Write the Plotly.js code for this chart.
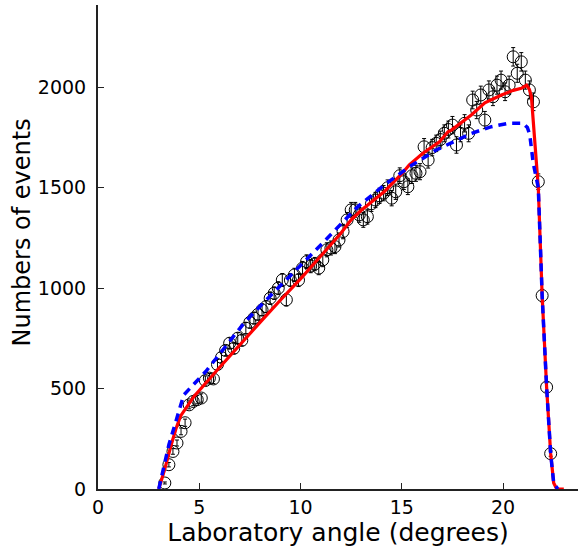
<!DOCTYPE html>
<html>
<head>
<meta charset="utf-8">
<script src="https://cdn.plot.ly/plotly-3.0.1.min.js"></script>
<style>html,body{margin:0;padding:0;background:#fff;}#plot{width:580px;height:548px;}</style>
</head>
<body>
<div id="plot"></div>
<script>
// Measured data points (laboratory angle, counts)
const dataAngle = [3.3,3.5,3.7,3.9,4.1,4.3,4.5,4.7,4.9,5.1,5.3,5.5,5.7,5.9,6.1,6.3,6.5,6.7,6.9,7.1,7.3,7.5,7.7,7.9,8.1,8.3,8.5,8.7,8.9,9.1,9.3,9.5,9.7,9.9,10.1,10.3,10.5,10.7,10.9,11.1,11.3,11.5,11.7,11.9,12.1,12.3,12.5,12.7,12.9,13.1,13.3,13.5,13.7,13.9,14.1,14.3,14.5,14.7,14.9,15.1,15.3,15.5,15.7,15.9,16.1,16.3,16.5,16.7,16.9,17.1,17.3,17.5,17.7,17.9,18.1,18.3,18.5,18.7,18.9,19.1,19.3,19.5,19.7,19.9,20.1,20.3,20.5,20.7,20.9,21.1,21.3,21.5,21.74,21.93,22.15,22.35];
const dataCounts = [30,121,187,229,287,330,419,436,445,453,540,552,548,620,655,690,726,700,751,740,801,830,851,870,892,908,950,975,1000,1041,942,1040,1066,1040,1100,1132,1110,1120,1100,1141,1191,1200,1207,1240,1282,1340,1390,1390,1365,1340,1356,1420,1439,1460,1473,1500,1448,1480,1560,1530,1505,1560,1572,1580,1704,1638,1700,1721,1740,1771,1790,1812,1713,1771,1821,1771,1937,1887,1962,1837,1987,1953,2011,2036,1978,2011,2152,2070,2127,2036,1987,1928,1530,963,507,176];
const dataErr = [5,11,14,15,17,18,20,21,21,21,23,23,23,25,26,26,27,26,27,27,28,29,29,29,30,30,31,31,32,32,31,32,33,32,33,34,33,33,33,34,35,35,35,35,36,37,37,37,37,37,37,38,38,38,38,39,38,38,39,39,39,39,40,40,41,40,41,41,42,42,42,43,41,42,43,42,44,43,44,43,45,44,45,45,44,45,46,45,46,45,45,44,39,31,23,13];

// Model curve 1 (solid red)
const redAngle = [3.0,3.3,3.6,3.85,4.08,4.74,5.9,7.05,8.0,9.0,10.0,11.0,12.0,12.5,13.0,14.14,15.0,15.37,16.04,16.86,17.28,17.45,18.43,19.1,19.92,20.5,20.9,21.16,21.3,21.4,21.55,21.74,21.93,22.15,22.35,22.5,22.65,23.0];
const redCounts = [0,100,215,300,364,461,594,720,830,940,1046,1160,1275,1340,1388,1481,1570,1614,1672,1729,1779,1787,1862,1923,1962,1985,1995,2011,1990,1953,1750,1500,963,507,176,30,0,0];

// Model curve 2 (dashed blue)
const blueAngle = [3.0,3.5,4.04,4.24,5.32,5.9,6.89,7.21,8.0,9.0,10.0,11.0,12.0,12.83,14.14,15.38,16.7,17.45,18.2,18.44,19.43,20.25,20.99,21.2,21.32,21.49,21.74,21.93,22.15,22.35,22.5,22.7];
const blueCounts = [0,220,403,469,585,660,784,826,910,1010,1115,1215,1320,1406,1514,1605,1688,1725,1763,1771,1804,1821,1821,1800,1763,1622,1500,963,507,176,30,0];

const xTicks = [0,5,10,15,20];
const yTicks = [0,500,1000,1500,2000];

const traces = [
  {x: dataAngle, y: dataCounts, type:'scatter', mode:'markers',
   marker:{symbol:'circle-open', size:12, color:'#000', line:{width:1, color:'#000'}},
   error_y:{type:'data', array:dataErr, visible:true, color:'#000', thickness:1, width:2},
   showlegend:false, cliponaxis:false},
  {x: redAngle, y: redCounts, type:'scatter', mode:'lines',
   line:{color:'#ff0000', width:3.2}, showlegend:false},
  {x: blueAngle, y: blueCounts, type:'scatter', mode:'lines',
   line:{color:'#0000ff', width:3.5, dash:'8px,6px'}, showlegend:false}
];

const axFont = {family:'DejaVu Sans, Arial, sans-serif', size:19, color:'#000'};
const layout = {
  width:580, height:548,
  margin:{l:98, r:2, t:5, b:59},
  paper_bgcolor:'#fff', plot_bgcolor:'#fff',
  showlegend:false,
  xaxis:{range:[0,23.7], tickvals:xTicks, ticktext:xTicks.map(String),
    ticks:'inside', ticklen:6, tickcolor:'#222', tickwidth:1,
    showline:true, linecolor:'#222', linewidth:2, showgrid:false, zeroline:false,
    tickfont:axFont, automargin:false,
    title:{text:'Laboratory angle (degrees)', font:{family:'DejaVu Sans, Arial, sans-serif', size:25, color:'#000'}, standoff:6}},
  yaxis:{range:[0,2410], tickvals:yTicks, ticktext:yTicks.map(String),
    ticks:'inside', ticklen:6, tickcolor:'#222', tickwidth:1,
    showline:true, linecolor:'#222', linewidth:2, showgrid:false, zeroline:false,
    tickfont:axFont, automargin:false, ticklabelstandoff:6},
  annotations:[{text:'Numbers of events', xref:'paper', yref:'paper', x:0, y:0.53,
    xanchor:'center', yanchor:'middle', xshift:-76, textangle:-90, showarrow:false,
    font:{family:'DejaVu Sans, Arial, sans-serif', size:24, color:'#000'}}]
};
Plotly.newPlot('plot', traces, layout, {staticPlot:true, displayModeBar:false});
</script>
</body>
</html>
